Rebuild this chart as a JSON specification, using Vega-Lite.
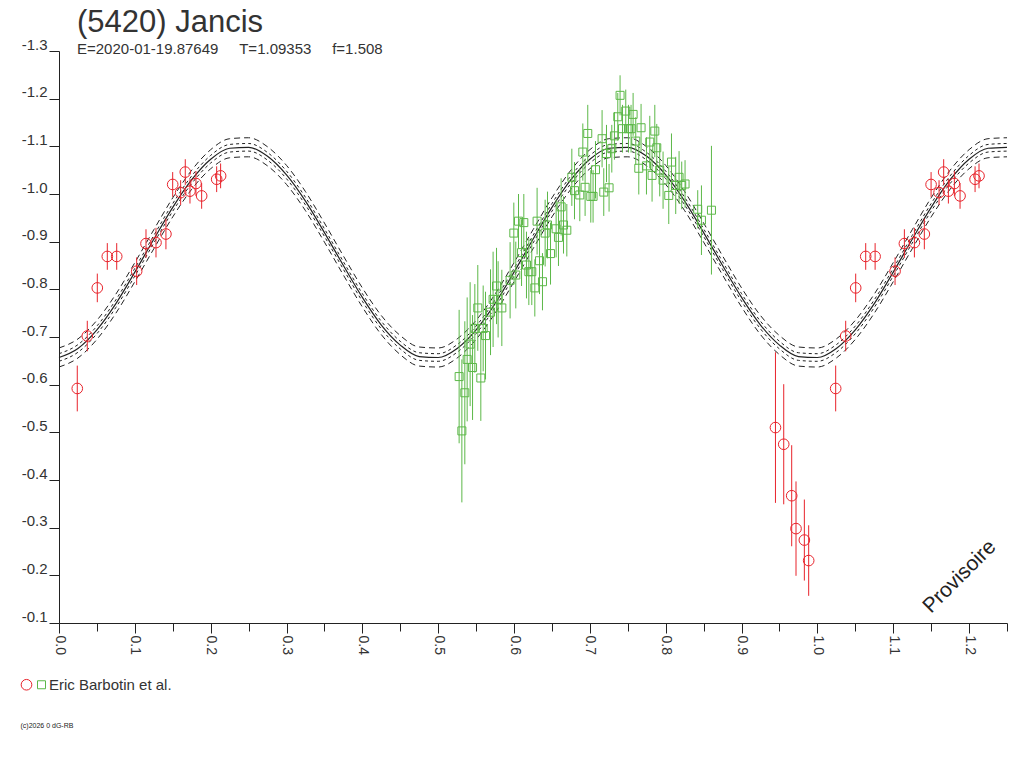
{
  "$schema": "https://vega.github.io/schema/vega-lite/v6.json",
  "width": 948,
  "height": 572,
  "autosize": "none",
  "padding": {"left": 59, "top": 51, "right": 17, "bottom": 145},
  "background": "white",
  "config": {
    "font": "Liberation Sans",
    "view": {"stroke": null}
  },
  "title": {
    "text": "(5420) Jancis",
    "subtitle": "E=2020-01-19.87649\u00a0\u00a0\u00a0\u00a0\u00a0T=1.09353\u00a0\u00a0\u00a0\u00a0\u00a0f=1.508",
    "anchor": "start",
    "frame": "group",
    "dx": 18,
    "offset": -21,
    "fontSize": 31,
    "fontWeight": "normal",
    "color": "#333333",
    "subtitleFontSize": 15,
    "subtitleColor": "#333333",
    "subtitlePadding": 3
  },
  "datasets": {
    "fit": [
      {"phase": 0.000, "fit": -0.657, "inner_a": -0.665, "inner_b": -0.649, "outer_a": -0.677, "outer_b": -0.637},
      {"phase": 0.025, "fit": -0.676, "inner_a": -0.684, "inner_b": -0.668, "outer_a": -0.696, "outer_b": -0.656},
      {"phase": 0.050, "fit": -0.715, "inner_a": -0.723, "inner_b": -0.707, "outer_a": -0.735, "outer_b": -0.695},
      {"phase": 0.075, "fit": -0.770, "inner_a": -0.778, "inner_b": -0.762, "outer_a": -0.790, "outer_b": -0.750},
      {"phase": 0.100, "fit": -0.836, "inner_a": -0.844, "inner_b": -0.828, "outer_a": -0.856, "outer_b": -0.816},
      {"phase": 0.125, "fit": -0.905, "inner_a": -0.913, "inner_b": -0.897, "outer_a": -0.925, "outer_b": -0.885},
      {"phase": 0.150, "fit": -0.972, "inner_a": -0.980, "inner_b": -0.964, "outer_a": -0.992, "outer_b": -0.952},
      {"phase": 0.175, "fit": -1.030, "inner_a": -1.038, "inner_b": -1.022, "outer_a": -1.050, "outer_b": -1.010},
      {"phase": 0.200, "fit": -1.073, "inner_a": -1.081, "inner_b": -1.065, "outer_a": -1.093, "outer_b": -1.053},
      {"phase": 0.225, "fit": -1.096, "inner_a": -1.104, "inner_b": -1.088, "outer_a": -1.116, "outer_b": -1.076},
      {"phase": 0.250, "fit": -1.098, "inner_a": -1.106, "inner_b": -1.090, "outer_a": -1.118, "outer_b": -1.078},
      {"phase": 0.275, "fit": -1.079, "inner_a": -1.087, "inner_b": -1.071, "outer_a": -1.099, "outer_b": -1.059},
      {"phase": 0.300, "fit": -1.040, "inner_a": -1.048, "inner_b": -1.032, "outer_a": -1.060, "outer_b": -1.020},
      {"phase": 0.325, "fit": -0.985, "inner_a": -0.993, "inner_b": -0.977, "outer_a": -1.005, "outer_b": -0.965},
      {"phase": 0.350, "fit": -0.919, "inner_a": -0.927, "inner_b": -0.911, "outer_a": -0.939, "outer_b": -0.899},
      {"phase": 0.375, "fit": -0.850, "inner_a": -0.858, "inner_b": -0.842, "outer_a": -0.870, "outer_b": -0.830},
      {"phase": 0.400, "fit": -0.783, "inner_a": -0.791, "inner_b": -0.775, "outer_a": -0.803, "outer_b": -0.763},
      {"phase": 0.425, "fit": -0.725, "inner_a": -0.733, "inner_b": -0.717, "outer_a": -0.745, "outer_b": -0.705},
      {"phase": 0.450, "fit": -0.683, "inner_a": -0.691, "inner_b": -0.675, "outer_a": -0.703, "outer_b": -0.663},
      {"phase": 0.475, "fit": -0.659, "inner_a": -0.667, "inner_b": -0.651, "outer_a": -0.679, "outer_b": -0.639},
      {"phase": 0.500, "fit": -0.657, "inner_a": -0.665, "inner_b": -0.649, "outer_a": -0.677, "outer_b": -0.637},
      {"phase": 0.525, "fit": -0.676, "inner_a": -0.684, "inner_b": -0.668, "outer_a": -0.696, "outer_b": -0.656},
      {"phase": 0.550, "fit": -0.715, "inner_a": -0.723, "inner_b": -0.707, "outer_a": -0.735, "outer_b": -0.695},
      {"phase": 0.575, "fit": -0.770, "inner_a": -0.778, "inner_b": -0.762, "outer_a": -0.790, "outer_b": -0.750},
      {"phase": 0.600, "fit": -0.836, "inner_a": -0.844, "inner_b": -0.828, "outer_a": -0.856, "outer_b": -0.816},
      {"phase": 0.625, "fit": -0.905, "inner_a": -0.913, "inner_b": -0.897, "outer_a": -0.925, "outer_b": -0.885},
      {"phase": 0.650, "fit": -0.972, "inner_a": -0.980, "inner_b": -0.964, "outer_a": -0.992, "outer_b": -0.952},
      {"phase": 0.675, "fit": -1.030, "inner_a": -1.038, "inner_b": -1.022, "outer_a": -1.050, "outer_b": -1.010},
      {"phase": 0.700, "fit": -1.073, "inner_a": -1.081, "inner_b": -1.065, "outer_a": -1.093, "outer_b": -1.053},
      {"phase": 0.725, "fit": -1.096, "inner_a": -1.104, "inner_b": -1.088, "outer_a": -1.116, "outer_b": -1.076},
      {"phase": 0.750, "fit": -1.098, "inner_a": -1.106, "inner_b": -1.090, "outer_a": -1.118, "outer_b": -1.078},
      {"phase": 0.775, "fit": -1.079, "inner_a": -1.087, "inner_b": -1.071, "outer_a": -1.099, "outer_b": -1.059},
      {"phase": 0.800, "fit": -1.040, "inner_a": -1.048, "inner_b": -1.032, "outer_a": -1.060, "outer_b": -1.020},
      {"phase": 0.825, "fit": -0.985, "inner_a": -0.993, "inner_b": -0.977, "outer_a": -1.005, "outer_b": -0.965},
      {"phase": 0.850, "fit": -0.919, "inner_a": -0.927, "inner_b": -0.911, "outer_a": -0.939, "outer_b": -0.899},
      {"phase": 0.875, "fit": -0.850, "inner_a": -0.858, "inner_b": -0.842, "outer_a": -0.870, "outer_b": -0.830},
      {"phase": 0.900, "fit": -0.783, "inner_a": -0.791, "inner_b": -0.775, "outer_a": -0.803, "outer_b": -0.763},
      {"phase": 0.925, "fit": -0.725, "inner_a": -0.733, "inner_b": -0.717, "outer_a": -0.745, "outer_b": -0.705},
      {"phase": 0.950, "fit": -0.683, "inner_a": -0.691, "inner_b": -0.675, "outer_a": -0.703, "outer_b": -0.663},
      {"phase": 0.975, "fit": -0.659, "inner_a": -0.667, "inner_b": -0.651, "outer_a": -0.679, "outer_b": -0.639},
      {"phase": 1.000, "fit": -0.657, "inner_a": -0.665, "inner_b": -0.649, "outer_a": -0.677, "outer_b": -0.637},
      {"phase": 1.025, "fit": -0.676, "inner_a": -0.684, "inner_b": -0.668, "outer_a": -0.696, "outer_b": -0.656},
      {"phase": 1.050, "fit": -0.715, "inner_a": -0.723, "inner_b": -0.707, "outer_a": -0.735, "outer_b": -0.695},
      {"phase": 1.075, "fit": -0.770, "inner_a": -0.778, "inner_b": -0.762, "outer_a": -0.790, "outer_b": -0.750},
      {"phase": 1.100, "fit": -0.836, "inner_a": -0.844, "inner_b": -0.828, "outer_a": -0.856, "outer_b": -0.816},
      {"phase": 1.125, "fit": -0.905, "inner_a": -0.913, "inner_b": -0.897, "outer_a": -0.925, "outer_b": -0.885},
      {"phase": 1.150, "fit": -0.972, "inner_a": -0.980, "inner_b": -0.964, "outer_a": -0.992, "outer_b": -0.952},
      {"phase": 1.175, "fit": -1.030, "inner_a": -1.038, "inner_b": -1.022, "outer_a": -1.050, "outer_b": -1.010},
      {"phase": 1.200, "fit": -1.073, "inner_a": -1.081, "inner_b": -1.065, "outer_a": -1.093, "outer_b": -1.053},
      {"phase": 1.225, "fit": -1.096, "inner_a": -1.104, "inner_b": -1.088, "outer_a": -1.116, "outer_b": -1.076},
      {"phase": 1.250, "fit": -1.098, "inner_a": -1.106, "inner_b": -1.090, "outer_a": -1.118, "outer_b": -1.078}
    ],
    "obs": [
      {"s": "1", "phase": 0.0241, "mag": -0.592, "err": 0.048},
      {"s": "1", "phase": 0.0373, "mag": -0.702, "err": 0.032},
      {"s": "1", "phase": 0.0505, "mag": -0.803, "err": 0.030},
      {"s": "1", "phase": 0.0637, "mag": -0.869, "err": 0.028},
      {"s": "1", "phase": 0.0761, "mag": -0.869, "err": 0.028},
      {"s": "1", "phase": 0.1024, "mag": -0.838, "err": 0.029},
      {"s": "1", "phase": 0.1147, "mag": -0.896, "err": 0.030},
      {"s": "1", "phase": 0.1279, "mag": -0.898, "err": 0.031},
      {"s": "1", "phase": 0.1410, "mag": -0.916, "err": 0.032},
      {"s": "1", "phase": 0.1499, "mag": -1.020, "err": 0.026},
      {"s": "1", "phase": 0.1604, "mag": -1.003, "err": 0.026},
      {"s": "1", "phase": 0.1665, "mag": -1.046, "err": 0.027},
      {"s": "1", "phase": 0.1727, "mag": -1.006, "err": 0.026},
      {"s": "1", "phase": 0.1806, "mag": -1.022, "err": 0.026},
      {"s": "1", "phase": 0.1881, "mag": -0.996, "err": 0.027},
      {"s": "1", "phase": 0.2079, "mag": -1.031, "err": 0.027},
      {"s": "1", "phase": 0.2131, "mag": -1.038, "err": 0.026},
      {"s": "1", "phase": 0.9447, "mag": -0.510, "err": 0.158},
      {"s": "1", "phase": 0.9556, "mag": -0.475, "err": 0.126},
      {"s": "1", "phase": 0.9661, "mag": -0.367, "err": 0.106},
      {"s": "1", "phase": 0.9718, "mag": -0.298, "err": 0.099},
      {"s": "1", "phase": 0.9828, "mag": -0.274, "err": 0.085},
      {"s": "1", "phase": 0.9885, "mag": -0.231, "err": 0.074},
      {"s": "1", "phase": 1.0241, "mag": -0.592, "err": 0.048},
      {"s": "1", "phase": 1.0373, "mag": -0.702, "err": 0.032},
      {"s": "1", "phase": 1.0505, "mag": -0.803, "err": 0.030},
      {"s": "1", "phase": 1.0637, "mag": -0.869, "err": 0.028},
      {"s": "1", "phase": 1.0761, "mag": -0.869, "err": 0.028},
      {"s": "1", "phase": 1.1024, "mag": -0.838, "err": 0.029},
      {"s": "1", "phase": 1.1147, "mag": -0.896, "err": 0.030},
      {"s": "1", "phase": 1.1279, "mag": -0.898, "err": 0.031},
      {"s": "1", "phase": 1.1410, "mag": -0.916, "err": 0.032},
      {"s": "1", "phase": 1.1499, "mag": -1.020, "err": 0.026},
      {"s": "1", "phase": 1.1604, "mag": -1.003, "err": 0.026},
      {"s": "1", "phase": 1.1665, "mag": -1.046, "err": 0.027},
      {"s": "1", "phase": 1.1727, "mag": -1.006, "err": 0.026},
      {"s": "1", "phase": 1.1806, "mag": -1.022, "err": 0.026},
      {"s": "1", "phase": 1.1881, "mag": -0.996, "err": 0.027},
      {"s": "1", "phase": 1.2079, "mag": -1.031, "err": 0.027},
      {"s": "1", "phase": 1.2131, "mag": -1.038, "err": 0.026},
      {"s": "2", "phase": 0.5276, "mag": -0.617, "err": 0.140},
      {"s": "2", "phase": 0.5312, "mag": -0.503, "err": 0.150},
      {"s": "2", "phase": 0.5351, "mag": -0.583, "err": 0.150},
      {"s": "2", "phase": 0.5382, "mag": -0.653, "err": 0.130},
      {"s": "2", "phase": 0.5421, "mag": -0.685, "err": 0.130},
      {"s": "2", "phase": 0.5453, "mag": -0.636, "err": 0.110},
      {"s": "2", "phase": 0.5483, "mag": -0.718, "err": 0.093},
      {"s": "2", "phase": 0.5522, "mag": -0.761, "err": 0.090},
      {"s": "2", "phase": 0.5562, "mag": -0.614, "err": 0.090},
      {"s": "2", "phase": 0.5593, "mag": -0.718, "err": 0.090},
      {"s": "2", "phase": 0.5624, "mag": -0.703, "err": 0.092},
      {"s": "2", "phase": 0.5690, "mag": -0.752, "err": 0.090},
      {"s": "2", "phase": 0.5724, "mag": -0.779, "err": 0.100},
      {"s": "2", "phase": 0.5769, "mag": -0.807, "err": 0.080},
      {"s": "2", "phase": 0.5790, "mag": -0.779, "err": 0.080},
      {"s": "2", "phase": 0.5839, "mag": -0.761, "err": 0.080},
      {"s": "2", "phase": 0.5948, "mag": -0.819, "err": 0.080},
      {"s": "2", "phase": 0.5997, "mag": -0.918, "err": 0.064},
      {"s": "2", "phase": 0.6023, "mag": -0.830, "err": 0.070},
      {"s": "2", "phase": 0.6059, "mag": -0.943, "err": 0.057},
      {"s": "2", "phase": 0.6099, "mag": -0.877, "err": 0.070},
      {"s": "2", "phase": 0.6129, "mag": -0.940, "err": 0.060},
      {"s": "2", "phase": 0.6164, "mag": -0.851, "err": 0.070},
      {"s": "2", "phase": 0.6195, "mag": -0.837, "err": 0.070},
      {"s": "2", "phase": 0.6234, "mag": -0.837, "err": 0.070},
      {"s": "2", "phase": 0.6274, "mag": -0.803, "err": 0.060},
      {"s": "2", "phase": 0.6304, "mag": -0.943, "err": 0.070},
      {"s": "2", "phase": 0.6336, "mag": -0.860, "err": 0.070},
      {"s": "2", "phase": 0.6375, "mag": -0.816, "err": 0.060},
      {"s": "2", "phase": 0.6410, "mag": -0.918, "err": 0.070},
      {"s": "2", "phase": 0.6441, "mag": -0.935, "err": 0.070},
      {"s": "2", "phase": 0.6481, "mag": -0.875, "err": 0.065},
      {"s": "2", "phase": 0.6555, "mag": -0.927, "err": 0.060},
      {"s": "2", "phase": 0.6586, "mag": -0.909, "err": 0.060},
      {"s": "2", "phase": 0.6621, "mag": -0.973, "err": 0.060},
      {"s": "2", "phase": 0.6652, "mag": -0.935, "err": 0.060},
      {"s": "2", "phase": 0.6696, "mag": -0.924, "err": 0.055},
      {"s": "2", "phase": 0.6762, "mag": -1.035, "err": 0.060},
      {"s": "2", "phase": 0.6797, "mag": -1.007, "err": 0.060},
      {"s": "2", "phase": 0.6867, "mag": -0.998, "err": 0.055},
      {"s": "2", "phase": 0.6907, "mag": -1.088, "err": 0.060},
      {"s": "2", "phase": 0.6937, "mag": -1.014, "err": 0.060},
      {"s": "2", "phase": 0.6972, "mag": -1.127, "err": 0.060},
      {"s": "2", "phase": 0.7012, "mag": -0.995, "err": 0.055},
      {"s": "2", "phase": 0.7042, "mag": -0.995, "err": 0.055},
      {"s": "2", "phase": 0.7074, "mag": -1.051, "err": 0.060},
      {"s": "2", "phase": 0.7161, "mag": -1.116, "err": 0.060},
      {"s": "2", "phase": 0.7183, "mag": -1.004, "err": 0.050},
      {"s": "2", "phase": 0.7219, "mag": -1.085, "err": 0.060},
      {"s": "2", "phase": 0.7253, "mag": -1.013, "err": 0.050},
      {"s": "2", "phase": 0.7289, "mag": -1.095, "err": 0.050},
      {"s": "2", "phase": 0.7324, "mag": -1.122, "err": 0.050},
      {"s": "2", "phase": 0.7368, "mag": -1.162, "err": 0.050},
      {"s": "2", "phase": 0.7398, "mag": -1.207, "err": 0.042},
      {"s": "2", "phase": 0.7430, "mag": -1.137, "err": 0.050},
      {"s": "2", "phase": 0.7473, "mag": -1.174, "err": 0.045},
      {"s": "2", "phase": 0.7509, "mag": -1.137, "err": 0.050},
      {"s": "2", "phase": 0.7543, "mag": -1.137, "err": 0.050},
      {"s": "2", "phase": 0.7570, "mag": -1.167, "err": 0.045},
      {"s": "2", "phase": 0.7605, "mag": -1.111, "err": 0.050},
      {"s": "2", "phase": 0.7645, "mag": -1.054, "err": 0.055},
      {"s": "2", "phase": 0.7675, "mag": -1.139, "err": 0.050},
      {"s": "2", "phase": 0.7746, "mag": -1.059, "err": 0.060},
      {"s": "2", "phase": 0.7790, "mag": -1.109, "err": 0.055},
      {"s": "2", "phase": 0.7820, "mag": -1.039, "err": 0.055},
      {"s": "2", "phase": 0.7856, "mag": -1.132, "err": 0.055},
      {"s": "2", "phase": 0.7882, "mag": -1.097, "err": 0.050},
      {"s": "2", "phase": 0.7921, "mag": -1.050, "err": 0.055},
      {"s": "2", "phase": 0.7965, "mag": -1.029, "err": 0.060},
      {"s": "2", "phase": 0.8040, "mag": -0.997, "err": 0.060},
      {"s": "2", "phase": 0.8076, "mag": -1.067, "err": 0.060},
      {"s": "2", "phase": 0.8132, "mag": -1.018, "err": 0.060},
      {"s": "2", "phase": 0.8176, "mag": -1.035, "err": 0.055},
      {"s": "2", "phase": 0.8211, "mag": -1.018, "err": 0.050},
      {"s": "2", "phase": 0.8255, "mag": -1.021, "err": 0.050},
      {"s": "2", "phase": 0.8422, "mag": -0.968, "err": 0.040},
      {"s": "2", "phase": 0.8471, "mag": -0.945, "err": 0.073},
      {"s": "2", "phase": 0.8603, "mag": -0.966, "err": 0.135}
    ],
    "notes": [
      {"label": "Provisoire", "phase": 1.1876, "mag": -0.197}
    ]
  },
  "encoding": {
    "x": {
      "field": "phase",
      "type": "quantitative",
      "scale": {"domain": [0, 1.25], "nice": false, "zero": false},
      "axis": {
        "title": "(c)2026 0 dG-RB",
        "titleFontSize": 7,
        "titleFontWeight": "normal",
        "titleColor": "#222222",
        "titleX": -39,
        "titleY": 102,
        "titleAlign": "left",
        "titleBaseline": "middle",
        "values": [0, 0.05, 0.1, 0.15, 0.2, 0.25, 0.3, 0.35, 0.4, 0.45, 0.5, 0.55, 0.6, 0.65, 0.7, 0.75, 0.8, 0.85, 0.9, 0.95, 1.0, 1.05, 1.1, 1.15, 1.2, 1.25],
        "labelExpr": "abs(datum.value * 10 - round(datum.value * 10)) < 0.001 ? format(datum.value, '.1f') : ''",
        "labelAngle": 90,
        "labelAlign": "left",
        "labelBaseline": "middle",
        "labelPadding": 2,
        "labelFontSize": 14,
        "labelColor": "#333333",
        "labelFlush": false,
        "labelOverlap": false,
        "labelBound": false,
        "grid": false,
        "domainColor": "#222222",
        "tickColor": "#222222",
        "tickSize": {"condition": {"test": "abs(datum.value * 10 - round(datum.value * 10)) < 0.001", "value": 10}, "value": 8}
      }
    }
  },
  "layer": [
    {
      "data": {"name": "fit"},
      "mark": {"type": "line", "color": "#222222", "strokeWidth": 1, "strokeDash": [6, 4], "interpolate": "monotone"},
      "encoding": {
        "y": {
          "field": "outer_a",
          "type": "quantitative",
          "scale": {"domain": [-1.3, -0.1], "reverse": true, "nice": false, "zero": false},
          "axis": {
            "title": null,
            "values": [-1.3, -1.2, -1.1, -1.0, -0.9, -0.8, -0.7, -0.6, -0.5, -0.4, -0.3, -0.2, -0.1],
            "labelExpr": "(datum.value < 0 ? '-' : '') + format(abs(datum.value), '.1f')",
            "labelBaseline": "alphabetic",
            "labelOffset": -2,
            "labelPadding": 2,
            "labelFontSize": 15,
            "labelColor": "#333333",
            "labelFlush": false,
            "labelBound": false,
            "grid": false,
            "tickSize": 10,
            "domainColor": "#222222",
            "tickColor": "#222222"
          }
        }
      }
    },
    {
      "data": {"name": "fit"},
      "mark": {"type": "line", "color": "#222222", "strokeWidth": 1, "strokeDash": [6, 4], "interpolate": "monotone"},
      "encoding": {"y": {"field": "outer_b", "type": "quantitative", "title": null}}
    },
    {
      "data": {"name": "fit"},
      "mark": {"type": "line", "color": "#222222", "strokeWidth": 1, "strokeDash": [3, 3], "interpolate": "monotone"},
      "encoding": {"y": {"field": "inner_a", "type": "quantitative", "title": null}}
    },
    {
      "data": {"name": "fit"},
      "mark": {"type": "line", "color": "#222222", "strokeWidth": 1, "strokeDash": [3, 3], "interpolate": "monotone"},
      "encoding": {"y": {"field": "inner_b", "type": "quantitative", "title": null}}
    },
    {
      "data": {"name": "fit"},
      "mark": {"type": "line", "color": "#222222", "strokeWidth": 1.2, "interpolate": "monotone"},
      "encoding": {"y": {"field": "fit", "type": "quantitative", "title": null}}
    },
    {
      "data": {"name": "obs"},
      "transform": [{"filter": "datum.s == '1'"}],
      "mark": {"type": "errorbar", "color": "#e8232b", "rule": {"strokeWidth": 1}},
      "encoding": {
        "y": {"field": "mag", "type": "quantitative", "title": null},
        "yError": {"field": "err"}
      }
    },
    {
      "data": {"name": "obs"},
      "transform": [{"filter": "datum.s == '2'"}],
      "mark": {"type": "errorbar", "color": "#5cb848", "rule": {"strokeWidth": 1}},
      "encoding": {
        "y": {"field": "mag", "type": "quantitative", "title": null},
        "yError": {"field": "err"}
      }
    },
    {
      "data": {"name": "obs"},
      "mark": {"type": "point", "filled": false, "strokeWidth": 1, "opacity": 1},
      "encoding": {
        "y": {"field": "mag", "type": "quantitative", "title": null},
        "color": {
          "field": "s",
          "type": "nominal",
          "scale": {"domain": ["1", "2"], "range": ["#e8232b", "#5cb848"]},
          "legend": {
            "title": null,
            "orient": "none",
            "legendX": -40,
            "legendY": 626,
            "direction": "horizontal",
            "labelExpr": "datum.value == '2' ? 'Eric Barbotin et al.' : ''",
            "labelFontSize": 15,
            "labelColor": "#333333",
            "labelOffset": 0,
            "columnPadding": 0,
            "symbolStrokeWidth": 1,
            "encode": {"labels": {"update": {"dx": {"value": 5}}}}
          }
        },
        "shape": {
          "field": "s",
          "type": "nominal",
          "scale": {"domain": ["1", "2"], "range": ["circle", "square"]}
        },
        "size": {
          "field": "s",
          "type": "nominal",
          "scale": {"domain": ["1", "2"], "range": [113, 64]}
        }
      }
    },
    {
      "data": {"name": "notes"},
      "mark": {"type": "text", "angle": -45, "fontSize": 21, "color": "#222222", "align": "center", "baseline": "middle"},
      "encoding": {
        "y": {"field": "mag", "type": "quantitative", "title": null},
        "text": {"field": "label"}
      }
    }
  ]
}
